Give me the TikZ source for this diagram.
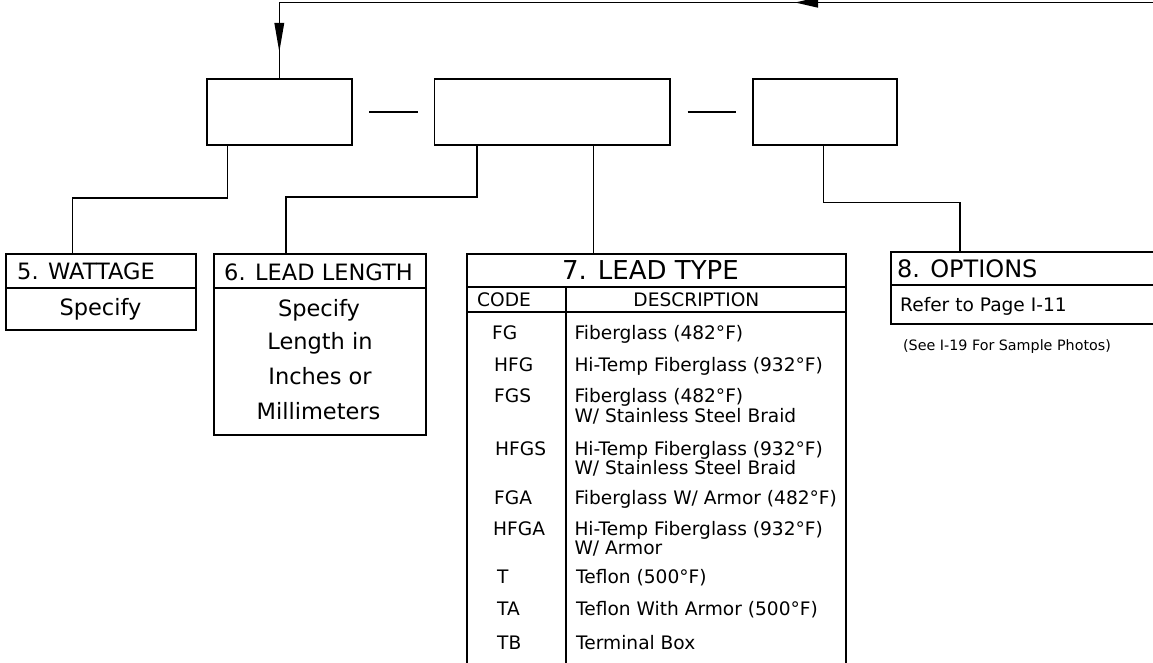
\documentclass[tikz,border=0pt]{standalone}
\usepackage{fontspec}
\setmainfont{DejaVu Sans}
\usetikzlibrary{arrows.meta}
\newcommand{\fsz}[1]{\fontsize{#1}{#1}\selectfont}
\begin{document}
\begin{tikzpicture}[x=1pt,y=-1pt,
  boxline/.style={line width=1.9pt},
  conn/.style={line width=1.6pt},
  emptybox/.style={draw,line width=1.9pt,inner sep=0pt},
  big/.style={inner sep=0pt,font=\fsz{22.5}},
  mid/.style={inner sep=0pt,font=\fsz{18.6}},
  small/.style={inner sep=0pt,font=\fsz{14.3}},
  title/.style={inner sep=0pt,font=\fsz{26}}]
\useasboundingbox (0,0) rectangle (1153,663);

% top boxes
\node[emptybox,minimum width=145pt,minimum height=66pt] (b1) at (279.5,112) {};
\node[emptybox,minimum width=235.5pt,minimum height=66pt] (b2) at (552.2,112) {};
\node[emptybox,minimum width=144pt,minimum height=66pt] (b3) at (825.3,112) {};
\coordinate (d1a) at (369,111.7); \coordinate (d1b) at (417.5,111.7);
\coordinate (d2a) at (687.6,111.7); \coordinate (d2b) at (735.8,111.7);
\draw[boxline] (d1a) -- (d1b);
\draw[boxline] (d2a) -- (d2b);

% feedback line with arrows
\coordinate (tr) at (1154,2.5);
\coordinate (tl) at (279.3,2.5);
\coordinate (ahs) at (818,2.5); \coordinate (ahe) at (795,2.5);
\coordinate (avs) at (279.3,23); \coordinate (ave) at (279.3,52);
\draw[conn] (tr) -- (tl) -- (b1.north -| tl);
\draw[conn,-{Triangle[length=23pt,width=10pt]}] (ahs) -- (ahe);
\draw[conn,-{Triangle[length=29pt,width=9.5pt]}] (avs) -- (ave);

% 5. WATTAGE
\node[emptybox,minimum width=190pt,minimum height=76pt] (wat) at (101,292) {};
\draw[boxline] (wat.west |- 0,288) -- (wat.east |- 0,288);
\node[big,anchor=base west] (watt) at (17,279.3) {5. WATTAGE};
\node[big,anchor=base] (wats) at (100.5,315.7) {Specify};

% 6. LEAD LENGTH
\node[emptybox,minimum width=212.6pt,minimum height=181pt] (len) at (320,344.5) {};
\draw[boxline] (len.west |- 0,288) -- (len.east |- 0,288);
\node[big,anchor=base west] (lent) at (224,280) {6. LEAD LENGTH};
\node[big,anchor=base] (len1) at (319,316) {Specify};
\node[big,anchor=base] (len2) at (320,349.3) {Length in};
\node[big,anchor=base] (len3) at (320,384) {Inches or};
\node[big,anchor=base] (len4) at (318.5,419.3) {Millimeters};

% 7. LEAD TYPE
\coordinate (ltl) at (466.7,254); \coordinate (ltr) at (845.7,254);
\coordinate (ltbl) at (466.7,665); \coordinate (ltbr) at (845.7,665);
\coordinate (ltc) at (593.5,254);
\draw[boxline] (ltbl) -- (ltl) -- (ltr) -- (ltbr);
\draw[boxline] (466.7,286.7) -- (845.7,286.7);
\draw[boxline] (466.7,312.3) -- (845.7,312.3);
\draw[boxline] (566.3,286.7) -- (566.3,665);
\node[title,anchor=base] (ltt) at (650.5,279.3) {7. LEAD TYPE};
\node[mid,anchor=base west] (code) at (477,306.7) {CODE};
\node[mid,anchor=base] (desc) at (696.4,306.7) {DESCRIPTION};
\node[mid,anchor=base west] (c1) at (492,339) {FG};
\node[mid,anchor=base west] (c2) at (494,371) {HFG};
\node[mid,anchor=base west] (c3) at (494,402.3) {FGS};
\node[mid,anchor=base west] (c4) at (495,455) {HFGS};
\node[mid,anchor=base west] (c5) at (494,504.3) {FGA};
\node[mid,anchor=base west] (c6) at (493,535) {HFGA};
\node[mid,anchor=base west] (c7) at (497,583.3) {T};
\node[mid,anchor=base west] (c8) at (497,615.7) {TA};
\node[mid,anchor=base west] (c9) at (497,649) {TB};
\node[mid,anchor=base west] (e1) at (574.3,339) {Fiberglass (482°F)};
\node[mid,anchor=base west] (e2) at (574.3,371) {Hi-Temp Fiberglass (932°F)};
\node[mid,anchor=base west] (e3) at (574.3,402.3) {Fiberglass (482°F)};
\node[mid,anchor=base west] (e3b) at (574.3,422.7) {W/ Stainless Steel Braid};
\node[mid,anchor=base west] (e4) at (574.3,455) {Hi-Temp Fiberglass (932°F)};
\node[mid,anchor=base west] (e4b) at (574.3,474.3) {W/ Stainless Steel Braid};
\node[mid,anchor=base west] (e5) at (574.3,504.3) {Fiberglass W/ Armor (482°F)};
\node[mid,anchor=base west] (e6) at (574.3,535) {Hi-Temp Fiberglass (932°F)};
\node[mid,anchor=base west] (e6b) at (574.3,554.3) {W/ Armor};
\node[mid,anchor=base west] (e7) at (576,583.3) {Teflon (500°F)};
\node[mid,anchor=base west] (e8) at (576,615.7) {Teflon With Armor (500°F)};
\node[mid,anchor=base west] (e9) at (576,649) {Terminal Box};

% 8. OPTIONS
\coordinate (opl) at (890.7,252); \coordinate (opr) at (1154,252);
\coordinate (opbl) at (890.7,324); \coordinate (opbr) at (1154,324);
\draw[boxline] (opr) -- (opl) -- (opbl) -- (opbr);
\draw[boxline] (890.7,285) -- (1154,285);
\node[big,anchor=base west,font=\fsz{24}] (opt) at (897,277.3) {8. OPTIONS};
\node[mid,anchor=base west] (opr1) at (900,311) {Refer to Page I-11};
\node[small,anchor=base] (see) at (1007,350.5) {(See I-19 For Sample Photos)};

% connectors
\coordinate (k1) at (227.3,198); \coordinate (k2) at (72.3,198);
\draw[conn] (b1.south -| k1) -- (k1) -- (k2) -- (wat.north -| k2);
\coordinate (k3) at (477,197); \coordinate (k4) at (285.7,197);
\draw[conn] (b2.south -| k3) -- (k3) -- (k4) -- (len.north -| k4);
\draw[conn] (b2.south -| ltc) -- (ltc);
\coordinate (k5) at (823.3,202.5); \coordinate (k6) at (960,202.5);
\draw[conn] (b3.south -| k5) -- (k5) -- (k6) -- (k6 |- opl);
\end{tikzpicture}
\end{document}
